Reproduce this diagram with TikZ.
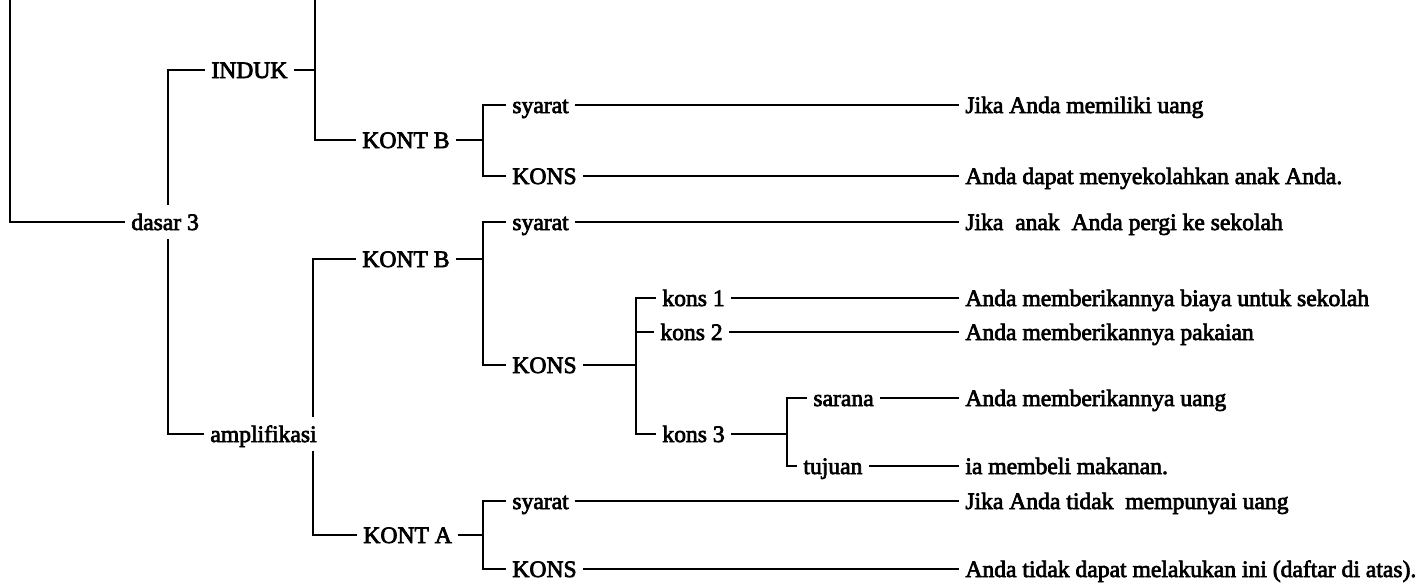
\documentclass[tikz,border=0pt]{standalone}
\usepackage{fontspec}
\setmainfont{Liberation Serif}
\newcommand{\heavytxt}[1]{\special{pdf:literal direct 2 Tr 0.35 w}#1\special{pdf:literal direct 0 Tr}}
\begin{document}
\begin{tikzpicture}[x=0.5pt,y=-0.5pt,
  lbl/.style={anchor=west, inner xsep=3pt, inner ysep=3pt, text height=9.5pt, text depth=1.5pt, font=\fontsize{11.8}{14}\selectfont, execute at begin node=\special{pdf:literal direct 2 Tr 0.35 w}, execute at end node=\special{pdf:literal direct 0 Tr}},
  conn/.style={line width=0.8pt, black},
  leafline/.style={line width=0.55pt, black}]
\useasboundingbox (0,0) rectangle (1422,584);
% nodes
\node[lbl] (dasar) at (125,222) {dasar 3};
\node[lbl] (induk) at (205,70) {INDUK};
\node[lbl] (kb1) at (356,140) {KONT B};
\node[lbl] (sy1) at (506,105) {syarat};
\node[lbl] (ks1) at (506,176) {KONS};
\node[lbl] (l1) at (959,105) {Jika Anda memiliki uang};
\node[lbl] (l2) at (959,176) {Anda dapat menyekolahkan anak Anda.};
\node[lbl] (ampl) at (204,434) {amplifikasi};
\node[lbl] (kb2) at (356,259) {KONT B};
\node[lbl] (sy2) at (506,222) {syarat};
\node[lbl] (l3) at (959,222) {Jika\ \ anak\ \ Anda pergi ke sekolah};
\node[lbl] (ks2) at (506,365) {KONS};
\node[lbl] (k1) at (656,298) {kons 1};
\node[lbl] (l4) at (959,298) {Anda memberikannya biaya untuk sekolah};
\node[lbl] (k2) at (654,332) {kons 2};
\node[lbl] (l5) at (959,332) {Anda memberikannya pakaian};
\node[lbl] (k3) at (656,434) {kons 3};
\node[lbl] (sar) at (807,398) {sarana};
\node[lbl] (l6) at (959,398) {Anda memberikannya uang};
\node[lbl] (tuj) at (797,466) {tujuan};
\node[lbl] (l7) at (959,466) {ia membeli makanan.};
\node[lbl] (ka) at (357,535) {KONT A};
\node[lbl] (sy3) at (506,501) {syarat};
\node[lbl] (l8) at (959,501) {Jika Anda tidak\ \ mempunyai uang};
\node[lbl] (ks3) at (506,569) {KONS};
\node[lbl] (l9) at (959,569) {Anda tidak dapat melakukan ini (daftar di atas).};
% junction coordinates
\coordinate (top0) at (10,0);
\coordinate (jD) at (168,222);
\coordinate (topI) at (315,0);
\coordinate (jB1) at (483,140);
\coordinate (jA) at (313,434);
\coordinate (jB2) at (483,259);
\coordinate (jK) at (636,365);
\coordinate (jK3) at (787,434);
\coordinate (jKA) at (483,535);
% connectors
\draw[conn] (top0) |- (dasar.west);
\draw[conn] (induk.west) -| (dasar.north -| jD);
\draw[conn] (ampl.west) -| (dasar.south -| jD);
\draw[conn] (induk.east) -- (induk.east -| topI);
\draw[conn] (topI) |- (kb1.west);
\draw[conn] (kb1.east) -- (jB1);
\draw[conn] (sy1.west) -| (jB1) |- (ks1.west);
\draw[leafline] (sy1.east) -- (l1.west);
\draw[leafline] (ks1.east) -- (l2.west);
\draw[conn] (kb2.west) -| (ampl.north -| jA);
\draw[conn] (ka.west) -| (ampl.south -| jA);
\draw[conn] (kb2.east) -- (jB2);
\draw[conn] (sy2.west) -| (jB2) |- (ks2.west);
\draw[leafline] (sy2.east) -- (l3.west);
\draw[conn] (ks2.east) -- (jK);
\draw[conn] (k1.west) -| (jK) |- (k3.west);
\draw[conn] (k2.west) -- (k2.west -| jK);
\draw[leafline] (k1.east) -- (l4.west);
\draw[leafline] (k2.east) -- (l5.west);
\draw[conn] (k3.east) -- (jK3);
\draw[conn] (sar.west) -| (jK3) |- (tuj.west);
\draw[leafline] (sar.east) -- (l6.west);
\draw[leafline] (tuj.east) -- (l7.west);
\draw[conn] (ka.east) -- (jKA);
\draw[conn] (sy3.west) -| (jKA) |- (ks3.west);
\draw[leafline] (sy3.east) -- (l8.west);
\draw[leafline] (ks3.east) -- (l9.west);
\end{tikzpicture}
\end{document}
